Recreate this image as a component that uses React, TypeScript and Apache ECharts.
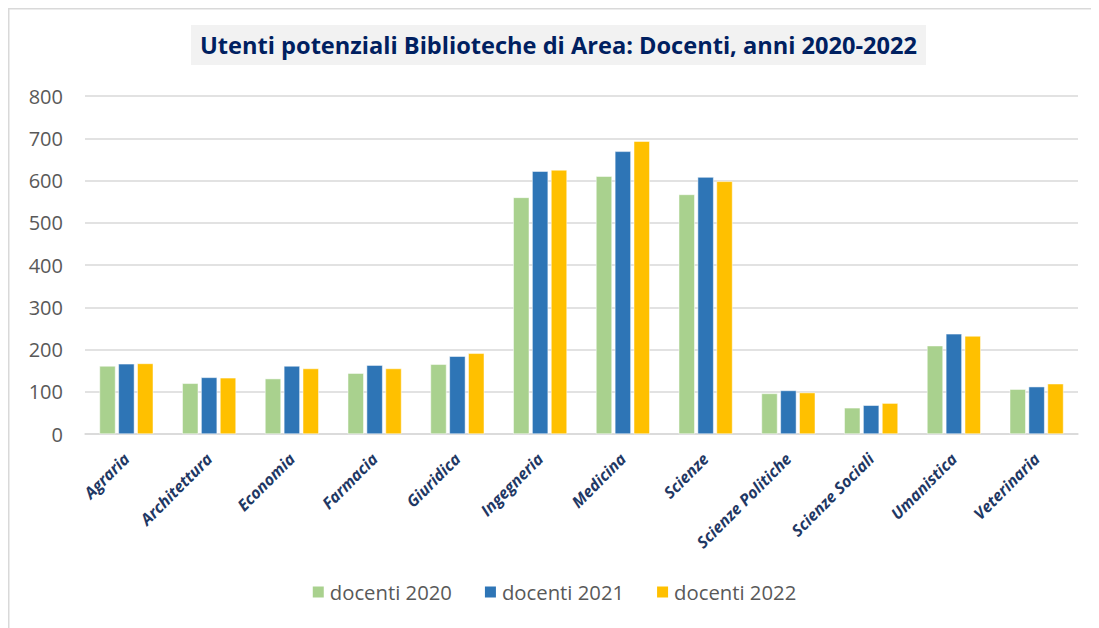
import React, { useEffect, useRef } from "react";
import * as echarts from "echarts";

const categories = [
  "Agraria",
  "Architettura",
  "Economia",
  "Farmacia",
  "Giuridica",
  "Ingegneria",
  "Medicina",
  "Scienze",
  "Scienze Politiche",
  "Scienze Sociali",
  "Umanistica",
  "Veterinaria",
];
const docenti2020 = [161, 120, 131, 144, 165, 560, 610, 567, 96, 62, 209, 106];
const docenti2021 = [166, 134, 161, 163, 184, 622, 669, 608, 103, 68, 237, 112];
const docenti2022 = [167, 133, 155, 155, 191, 625, 693, 598, 98, 73, 232, 119];
const seriesNames = ["docenti 2020", "docenti 2021", "docenti 2022"];
const colors = ["#A9D18E", "#2E75B6", "#FFC000"];
const titleText = "Utenti potenziali Biblioteche di Area: Docenti, anni 2020-2022";

export default function App() {
  const ref = useRef<HTMLDivElement>(null);
  useEffect(() => {
    if (!ref.current) return;
    const chart = echarts.init(ref.current, undefined, { renderer: "svg" });
    const values = [docenti2020, docenti2021, docenti2022];
    chart.setOption({
      animation: false,
      backgroundColor: "#ffffff",
      title: {
        text: titleText,
        left: 183,
        top: 17,
        backgroundColor: "#F2F2F2",
        padding: [7, 9, 7, 9],
        textStyle: {
          fontFamily: "Open Sans",
          fontWeight: "bold",
          fontSize: 23.6,
          lineHeight: 26,
          color: "#002060",
        },
      },
      graphic: [
        { type: "line", shape: { x1: 0, y1: 0.75, x2: 1091, y2: 0.75 }, style: { stroke: "#D9D9D9", lineWidth: 1.5 } },
        { type: "line", shape: { x1: 0.75, y1: 0, x2: 0.75, y2: 620 }, style: { stroke: "#D9D9D9", lineWidth: 1.5 } },
      ],
      legend: {
        data: seriesNames,
        left: "center",
        top: 569,
        itemWidth: 13,
        itemHeight: 13,
        itemGap: 31,
        icon: "rect",
        textStyle: { fontFamily: "Open Sans", fontSize: 20.3, color: "#595959" },
      },
      grid: { left: 77, right: 21, top: 88, bottom: 194, containLabel: false },
      xAxis: {
        type: "category",
        data: categories,
        axisLine: { lineStyle: { color: "#D9D9D9", width: 1.5 } },
        axisTick: { show: false },
        axisLabel: {
          rotate: 45,
          interval: 0,
          margin: 22,
          fontFamily: "Open Sans",
          fontWeight: "bold",
          fontStyle: "italic",
          fontSize: 16,
          color: "#1F3864",
        },
      },
      yAxis: {
        type: "value",
        min: 0,
        max: 800,
        interval: 100,
        axisLine: { show: false },
        axisTick: { show: false },
        axisLabel: { fontFamily: "Open Sans", fontSize: 20, color: "#595959", margin: 22 },
        splitLine: { lineStyle: { color: "#D9D9D9", width: 1.5 } },
      },
      series: seriesNames.map((name, i) => ({
        name,
        type: "bar",
        data: values[i],
        barWidth: 16,
        barGap: "18%",
        itemStyle: { color: colors[i], borderColor: "#ffffff", borderWidth: 0.5 },
      })),
    });
    return () => chart.dispose();
  }, []);
  return <div ref={ref} style={{ width: 1091, height: 620 }} />;
}
